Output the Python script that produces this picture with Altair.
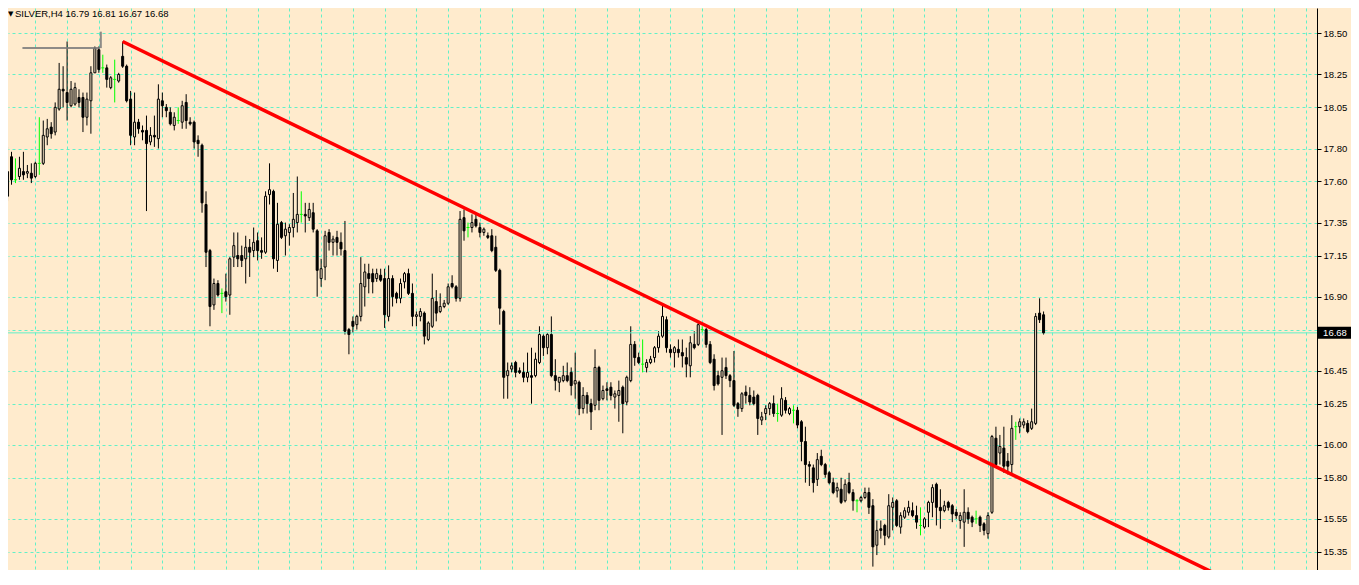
import altair as alt
import pandas as pd
import numpy as np

header = "SILVER,H4  16.79 16.81 16.67 16.68"

opens = [
17.51,17.75,17.61,17.63,17.66,17.65,17.65,17.63,17.71,17.71,
17.87,17.93,17.90,18.04,18.16,18.14,18.06,18.07,18.11,18.11,
17.99,18.09,18.26,18.40,18.29,18.29,18.17,18.22,18.21,18.36,
18.30,18.10,17.87,17.96,17.91,17.91,17.84,17.88,17.86,18.09,
18.05,18.02,17.94,17.97,17.96,18.08,17.96,17.96,17.85,17.82,
17.46,17.18,16.85,16.98,16.92,16.93,16.91,17.14,17.15,17.15,
17.13,17.20,17.18,17.24,17.18,17.17,17.52,17.54,17.12,17.35,
17.27,17.29,17.32,17.35,17.40,17.40,17.38,17.41,17.30,17.01,
17.08,17.29,17.23,17.26,17.23,17.18,16.70,16.75,16.73,16.78,
16.96,17.04,17.04,17.01,17.03,17.01,16.78,17.01,16.92,16.89,
16.99,17.04,16.92,16.78,16.78,16.80,16.64,16.72,16.87,16.81,
16.84,16.86,16.98,16.96,16.89,17.38,17.32,17.32,17.37,17.32,
17.29,17.27,17.27,17.20,17.06,16.81,16.42,16.46,16.50,16.45,
16.44,16.41,16.42,16.42,16.50,16.66,16.59,16.67,16.42,16.38,
16.39,16.42,16.44,16.37,16.38,16.22,16.30,16.25,16.24,16.47,
16.28,16.34,16.35,16.29,16.30,16.35,16.26,16.39,16.61,16.53,
16.49,16.47,16.50,16.53,16.59,16.66,16.76,16.58,16.56,16.58,
16.56,16.53,16.48,16.61,16.61,16.70,16.70,16.61,16.52,16.42,
16.41,16.47,16.42,16.39,16.25,16.22,16.32,16.30,16.29,16.30,
16.15,16.19,16.22,16.25,16.19,16.18,16.27,16.19,16.21,16.21,
16.14,16.02,15.88,15.86,15.79,15.93,15.88,15.83,15.77,15.72,
15.73,15.66,15.77,15.71,15.66,15.66,15.68,15.71,15.63,15.39,
15.49,15.51,15.44,15.62,15.66,15.50,15.56,15.59,15.60,15.57,
15.51,15.50,15.59,15.65,15.76,15.62,15.60,15.65,15.63,15.59,
15.54,15.53,15.59,15.56,15.55,15.56,15.52,15.46,15.59,16.04,
15.95,15.98,15.90,15.88,16.11,16.11,16.12,16.13,16.10,16.13,
16.80,16.79]

highs = [
17.81,17.78,17.74,17.75,17.78,17.70,17.71,17.72,17.99,17.97,
17.98,17.96,18.08,18.32,18.30,18.45,18.21,18.20,18.16,18.14,
18.14,18.30,18.42,18.42,18.37,18.31,18.24,18.34,18.26,18.45,
18.31,18.15,18.14,17.98,17.94,18.00,17.93,18.00,18.19,18.14,
18.07,18.05,18.02,18.05,18.09,18.13,17.99,17.97,17.88,17.83,
17.54,17.19,17.01,17.00,16.95,17.04,17.14,17.29,17.29,17.21,
17.27,17.25,17.32,17.29,17.26,17.54,17.71,17.55,17.47,17.36,
17.35,17.34,17.53,17.63,17.54,17.47,17.47,17.47,17.31,17.13,
17.30,17.31,17.27,17.30,17.29,17.36,16.71,16.78,16.79,17.14,
17.10,17.10,17.07,17.07,17.07,17.07,17.09,17.03,16.93,17.01,
17.05,17.07,16.98,16.81,16.83,16.81,16.75,17.04,16.94,16.92,
16.88,16.98,17.03,16.97,17.42,17.43,17.35,17.40,17.40,17.35,
17.32,17.29,17.31,17.27,17.07,16.82,16.50,16.50,16.51,16.47,
16.50,16.56,16.59,16.56,16.72,16.67,16.68,16.78,16.52,16.41,
16.48,16.50,16.47,16.56,16.39,16.35,16.32,16.28,16.58,16.48,
16.36,16.38,16.38,16.33,16.39,16.36,16.42,16.72,16.63,16.56,
16.64,16.52,16.54,16.60,16.69,16.85,16.78,16.61,16.60,16.64,
16.64,16.59,16.66,16.69,16.74,16.72,16.71,16.63,16.55,16.45,
16.53,16.53,16.43,16.57,16.26,16.32,16.36,16.35,16.33,16.31,
16.20,16.24,16.26,16.30,16.25,16.35,16.29,16.23,16.24,16.23,
16.15,16.11,15.90,15.88,15.95,15.97,15.89,15.84,15.80,15.77,
15.80,15.79,15.83,15.73,15.67,15.69,15.74,15.74,15.67,15.54,
15.54,15.52,15.70,15.68,15.67,15.59,15.62,15.66,15.65,15.63,
15.62,15.56,15.66,15.76,15.77,15.73,15.66,15.66,15.64,15.61,
15.59,15.73,15.62,15.57,15.60,15.57,15.53,15.59,16.06,16.11,
16.06,16.11,15.95,16.18,16.14,16.16,16.16,16.15,16.22,16.80,
16.89,16.81]

lows = [
17.48,17.58,17.59,17.61,17.61,17.62,17.59,17.62,17.64,17.70,
17.82,17.86,17.88,18.03,18.05,17.97,18.05,18.06,18.05,17.90,
17.94,17.89,18.26,18.26,18.26,18.17,18.16,18.08,18.20,18.29,
18.08,17.82,17.82,17.89,17.85,17.42,17.82,17.81,17.80,17.99,
17.99,17.94,17.91,17.95,17.92,17.92,17.94,17.80,17.75,17.41,
17.08,16.72,16.82,16.90,16.80,16.87,16.79,17.08,17.08,17.08,
16.98,17.02,17.14,17.12,17.13,17.16,17.46,17.07,17.05,17.25,
17.15,17.21,17.26,17.29,17.35,17.29,17.36,17.29,16.90,16.96,
17.00,17.18,17.15,17.15,17.15,16.67,16.55,16.68,16.70,16.75,
16.84,16.92,16.92,16.99,16.99,16.71,16.75,16.84,16.86,16.86,
16.95,16.91,16.72,16.72,16.75,16.61,16.63,16.71,16.75,16.80,
16.83,16.85,16.95,16.87,16.87,17.24,17.26,17.29,17.32,17.26,
17.27,17.25,17.17,17.05,16.73,16.28,16.28,16.44,16.41,16.43,
16.38,16.38,16.25,16.41,16.49,16.54,16.55,16.41,16.33,16.32,
16.38,16.38,16.30,16.28,16.18,16.19,16.19,16.09,16.21,16.21,
16.27,16.27,16.27,16.22,16.14,16.07,16.24,16.38,16.48,16.49,
16.44,16.44,16.49,16.50,16.56,16.65,16.56,16.53,16.47,16.53,
16.47,16.41,16.41,16.58,16.60,16.68,16.59,16.49,16.33,16.36,
16.06,16.40,16.35,16.23,16.17,16.20,16.25,16.24,16.24,16.06,
16.12,16.15,16.18,16.17,16.14,16.17,16.19,16.18,16.13,16.10,
15.90,15.77,15.75,15.71,15.75,15.87,15.80,15.76,15.70,15.68,
15.64,15.65,15.70,15.60,15.59,15.65,15.67,15.58,15.26,15.33,
15.43,15.39,15.43,15.48,15.50,15.46,15.55,15.57,15.56,15.49,
15.45,15.49,15.50,15.56,15.51,15.49,15.59,15.60,15.53,15.55,
15.49,15.38,15.52,15.50,15.52,15.47,15.45,15.43,15.58,15.87,
15.88,15.83,15.82,15.82,16.03,16.07,16.10,16.07,16.09,16.12,
16.74,16.67]

closes = [
17.66,17.61,17.61,17.68,17.64,17.66,17.62,17.71,17.71,17.88,
17.92,17.89,18.05,18.16,18.15,18.08,18.16,18.17,18.08,17.99,
18.10,18.26,18.41,18.28,18.29,18.22,18.23,18.22,18.25,18.30,
18.09,17.88,17.96,17.92,17.90,17.83,17.88,17.87,18.10,18.06,
18.03,17.95,17.99,17.97,18.06,17.97,17.95,17.84,17.83,17.47,
17.17,16.84,16.98,16.91,16.92,16.90,17.13,17.21,17.13,17.12,
17.20,17.17,17.23,17.18,17.17,17.51,17.55,17.13,17.34,17.26,
17.31,17.32,17.37,17.40,17.40,17.39,17.43,17.31,17.06,17.07,
17.27,17.23,17.25,17.23,17.19,16.69,16.67,16.72,16.78,16.98,
17.05,17.01,16.99,17.04,17.00,16.79,17.01,16.90,16.89,16.98,
17.04,16.92,16.78,16.79,16.81,16.66,16.74,16.89,16.80,16.84,
16.86,16.96,16.96,16.89,17.37,17.30,17.32,17.35,17.33,17.29,
17.31,17.26,17.18,17.06,16.83,16.41,16.45,16.48,16.44,16.44,
16.41,16.44,16.41,16.52,16.67,16.59,16.67,16.42,16.39,16.41,
16.42,16.39,16.36,16.39,16.22,16.30,16.25,16.20,16.47,16.27,
16.33,16.33,16.30,16.31,16.33,16.25,16.41,16.61,16.53,16.50,
16.49,16.50,16.52,16.59,16.66,16.78,16.59,16.56,16.59,16.56,
16.54,16.49,16.62,16.59,16.73,16.70,16.61,16.50,16.36,16.37,
16.45,16.42,16.39,16.24,16.22,16.31,16.30,16.26,16.25,16.16,
16.17,16.22,16.25,16.19,16.19,16.28,16.21,16.22,16.21,16.12,
16.02,15.88,15.87,15.77,15.91,15.88,15.82,15.77,15.71,15.74,
15.65,15.76,15.71,15.66,15.66,15.68,15.71,15.62,15.38,15.48,
15.48,15.45,15.63,15.65,15.51,15.57,15.60,15.62,15.57,15.53,
15.51,15.55,15.65,15.74,15.62,15.60,15.63,15.62,15.58,15.57,
15.57,15.59,15.55,15.53,15.55,15.51,15.48,15.57,16.05,15.88,
15.99,15.87,15.87,16.10,16.11,16.14,16.14,16.08,16.14,16.78,
16.76,16.68]

# labelled price levels (16.70 sits under the current-price box, so only its grid line shows)
y_ticks = [18.50, 18.25, 18.05, 17.80, 17.60, 17.35, 17.15, 16.90, 16.70,
           16.45, 16.25, 16.00, 15.80, 15.55, 15.35]
hidden_tick = 16.70
bar_grid = list(range(7, 329, 8))
last_price = 16.68
last_label = "16.68"

trend_idx = [29, 310]
trend_price = [18.45, 15.15]

gray_h_idx = [3.75, 23.25]
gray_h_price = [18.41]
gray_v_idx = [23.5]
gray_v_price = [18.41, 18.51]

assert len(opens) == len(highs) == len(lows) == len(closes), (len(opens), len(highs), len(lows), len(closes))

BG = "#FFEBCD"
GRID = "#62F0C8"
DOJI = "#00FF00"
FONT = "Liberation Sans"

n = len(opens)
df = pd.DataFrame({"i": np.arange(n), "o": opens, "h": highs, "l": lows, "c": closes})
df["kind"] = np.where(df.c > df.o, "up", np.where(df.c < df.o, "down", "doji"))
df["xl"] = df.i - 0.375
df["xr"] = df.i + 0.375

xscale = alt.Scale(domain=[1.375, 328.625], nice=False, zero=False)
yscale = alt.Scale(domain=[15.2394, 18.6537], nice=False, zero=False)
xaxis = alt.Axis(values=bar_grid, grid=True, gridColor=GRID, gridDash=[3, 3], gridWidth=1,
                 labels=False, ticks=False, domain=False, title=None)
yaxis = alt.Axis(orient="right", values=y_ticks,
                 labelExpr="abs(datum.value - %s) < 0.001 ? '' : format(datum.value, '.2f')" % hidden_tick,
                 grid=True, gridColor=GRID,
                 gridDash=[3, 3], gridWidth=1, domainColor="#000000", domainWidth=1,
                 tickColor="#000000", tickSize=4, tickWidth=1, labelColor="#000000",
                 labelFont=FONT, labelFontSize=9.5, labelPadding=2, labelOverlap=False,
                 labelBound=False, labelFlush=False, title=None)

def X(f):
    return alt.X(f, type="quantitative", scale=xscale, axis=xaxis)

def Y(f):
    return alt.Y(f, type="quantitative", scale=yscale, axis=yaxis)

base = alt.Chart(df)

price_line = alt.Chart(pd.DataFrame({"p": [last_price]})).mark_rule(
    color=GRID, strokeWidth=1).encode(y=Y("p"))

wicks = base.mark_rule(strokeWidth=1, clip=True).encode(
    x=X("i"), y=Y("l"), y2="h:Q",
    color=alt.condition("datum.kind === 'doji'", alt.value(DOJI), alt.value("#000000")))

bodies = base.transform_filter("datum.kind !== 'doji'").mark_bar(
    width=2, stroke="#000000", strokeWidth=1, clip=True).encode(
    x=X("i"), y=Y("o"), y2="c:Q",
    fill=alt.condition("datum.kind === 'up'", alt.value(BG), alt.value("#000000")))

doji_ticks = base.transform_filter("datum.kind === 'doji'").mark_rule(
    color=DOJI, strokeWidth=1, clip=True).encode(x=X("xl"), x2="xr:Q", y=Y("o"))

gray_h = alt.Chart(pd.DataFrame({"a": [gray_h_idx[0]], "b": [gray_h_idx[1]], "p": gray_h_price})).mark_rule(
    color="#7a7a7a", strokeWidth=2, opacity=0.85).encode(x=X("a"), x2="b:Q", y=Y("p"))
gray_v = alt.Chart(pd.DataFrame({"a": gray_v_idx, "p": [gray_v_price[0]], "q": [gray_v_price[1]]})).mark_rule(
    color="#7a7a7a", strokeWidth=2, opacity=0.85).encode(x=X("a"), y=Y("p"), y2="q:Q")

trend = alt.Chart(pd.DataFrame({"i": trend_idx, "p": trend_price})).mark_line(
    color="#FF0000", strokeWidth=3.5, clip=True).encode(x=X("i"), y=Y("p"))

tri = alt.Chart(pd.DataFrame({"t": ["\u25BC"]})).mark_text(
    align="left", baseline="middle", fontSize=7, color="#000000", font="DejaVu Sans").encode(
    x=alt.value(0), y=alt.value(6), text="t:N")
head = alt.Chart(pd.DataFrame({"t": [header]})).mark_text(
    align="left", baseline="middle", fontSize=9.5, color="#000000", font=FONT).encode(
    x=alt.value(7), y=alt.value(6), text="t:N")

box = alt.Chart(pd.DataFrame({"p": [last_price]})).mark_tick(
    color="#000000", size=33, thickness=12, opacity=1, clip=False).encode(
    x=alt.value(1326.5), y=Y("p"))
box_text = alt.Chart(pd.DataFrame({"p": [last_price], "t": [last_label]})).mark_text(
    align="center", baseline="middle", fontSize=9.5, color="#FFFFFF", font=FONT).encode(
    x=alt.value(1327), y=Y("p"), text="t:N")

chart = alt.layer(
    wicks, price_line, bodies, doji_ticks, gray_h, gray_v, trend, tri, head, box, box_text
).properties(
    width=1309, height=562, background=BG,
    padding={"left": 0, "top": 0, "right": 34, "bottom": 0},
    autosize=alt.AutoSizeParams(type="none")
).configure_view(stroke=None, fill=BG)

chart.save("out.html", embed_options={"renderer": "svg", "actions": False})
